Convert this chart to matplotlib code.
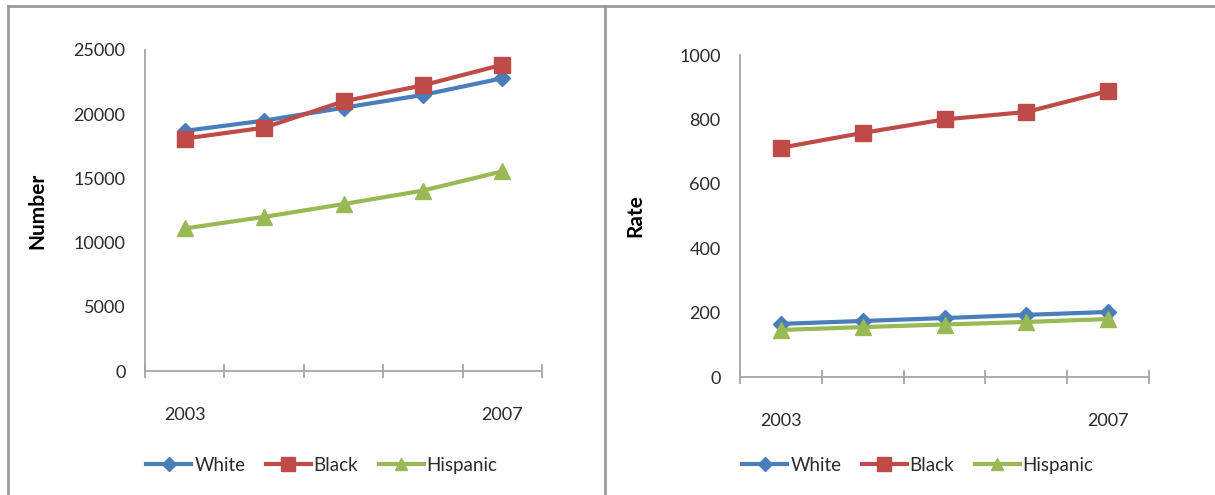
import matplotlib.pyplot as plt
from matplotlib.lines import Line2D

# ---------- DATA ----------
years = ["2003", "2004", "2005", "2006", "2007"]
groups = ["White", "Black", "Hispanic"]

number_white = [18700, 19500, 20500, 21500, 22800]
number_black = [18100, 18950, 21000, 22250, 23850]
number_hispanic = [11100, 12000, 13000, 14050, 15550]

rate_white = [165, 174, 183, 193, 202]
rate_black = [712, 758, 800, 823, 888]
rate_hispanic = [146, 155, 163, 171, 180]

colors = ["#4A7EBB", "#BE4B48", "#98B954"]
markers = ["D", "s", "^"]
msizes = [8, 12, 11]

plt.rcParams['font.family'] = ['Lato', 'DejaVu Sans']
AXIS_GREY = "#A6A6A6"


def draw_panel(ax, series, ylim, yticks, ylabel, legend_x, labelpad):
    x = list(range(len(years)))
    handles = []
    for vals, name, c, m, ms in zip(series, groups, colors, markers, msizes):
        h, = ax.plot(x, vals, color=c, lw=3, marker=m, ms=ms,
                     markeredgecolor=c, label=name, clip_on=False, zorder=3)
        handles.append(h)

    ax.set_xlim(-0.5, len(years) - 0.5)
    ax.set_ylim(*ylim)
    ax.set_yticks(yticks)
    ax.tick_params(axis="y", length=0, pad=14, labelsize=13, labelcolor="#2a2a2a")

    # only the first and last year carry a label, boundaries get the tick marks
    ax.set_xticks([0, len(years) - 1])
    ax.set_xticklabels([years[0], years[-1]])
    ax.set_xticks([i - 0.5 for i in range(len(years) + 1)], minor=True)
    ax.tick_params(axis="x", which="major", length=0, pad=26, labelsize=13,
                   labelcolor="#2a2a2a")
    ax.tick_params(axis="x", which="minor", direction="inout", length=10,
                   width=1.3, color=AXIS_GREY)

    for s in ["top", "right"]:
        ax.spines[s].set_visible(False)
    for s in ["left", "bottom"]:
        ax.spines[s].set_color(AXIS_GREY)
        ax.spines[s].set_linewidth(1.3)

    ax.set_ylabel(ylabel, fontsize=15, fontweight="bold", labelpad=labelpad)

    ax.legend(handles=handles, loc="center", ncol=3, frameon=False,
              bbox_to_anchor=(legend_x, 0.06), bbox_transform=fig.transFigure,
              fontsize=13.5, handlelength=2.4, handletextpad=0.15,
              columnspacing=1.1, labelcolor="#2a2a2a", markerscale=0.85)


fig = plt.figure(figsize=(12.15, 4.95), dpi=100)

ax1 = fig.add_axes([145 / 1215, 1 - 371 / 495, 397 / 1215, 321 / 495])
draw_panel(ax1, [number_white, number_black, number_hispanic],
           (0, 25000), range(0, 25001, 5000), "Number", 322 / 1215, 19)

ax2 = fig.add_axes([740 / 1215, 1 - 377 / 495, 409 / 1215, 322 / 495])
draw_panel(ax2, [rate_white, rate_black, rate_hispanic],
           (0, 1000), range(0, 1001, 200), "Rate", 918 / 1215, 24)

# panel frames
frame = dict(color="#9A9A9A", lw=2, transform=fig.transFigure)
fig.add_artist(Line2D([8 / 1215, 1], [1 - 6 / 495, 1 - 6 / 495], **frame))
fig.add_artist(Line2D([8 / 1215, 8 / 1215], [0, 1 - 6 / 495], **frame))
fig.add_artist(Line2D([605 / 1215, 605 / 1215], [0, 1 - 6 / 495], **frame))

fig.savefig("out.png", dpi=100)
